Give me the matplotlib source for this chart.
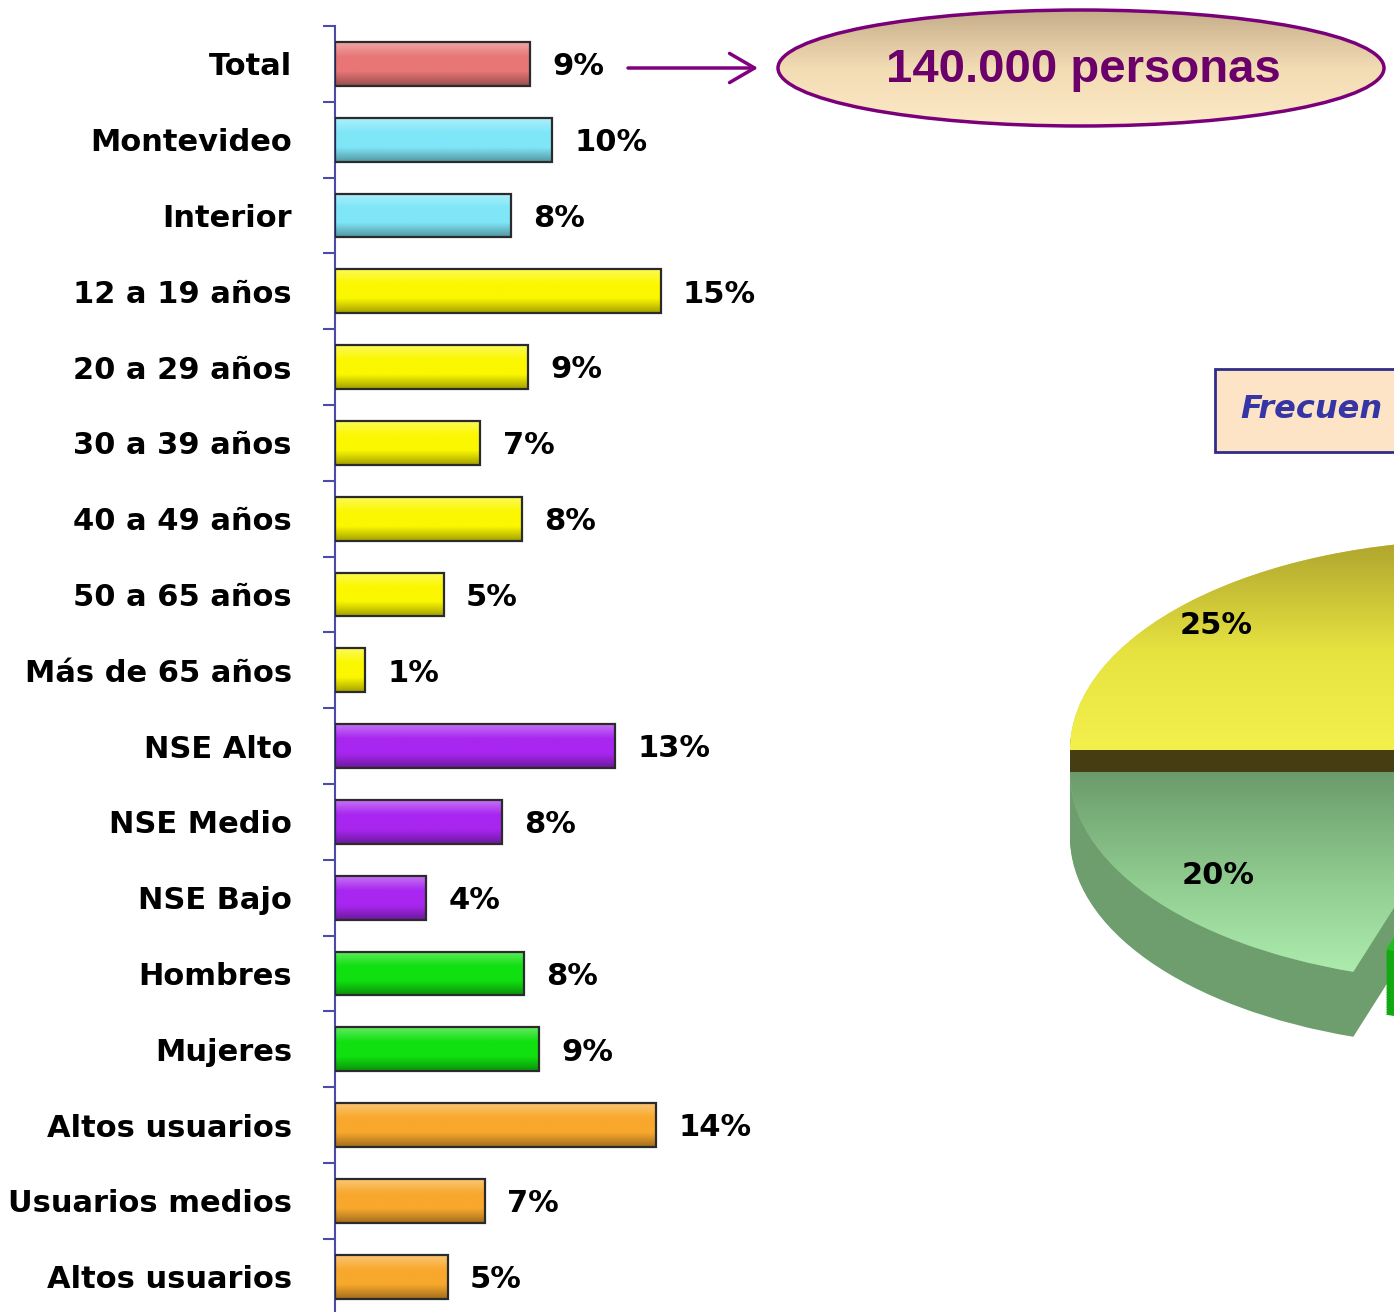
import numpy as np
import matplotlib
matplotlib.use('Agg')
import matplotlib.pyplot as plt
from matplotlib.patches import Ellipse, Rectangle
from matplotlib.colors import to_rgb, LinearSegmentedColormap

# ---- data ----
categories = ['Total', 'Montevideo', 'Interior', '12 a 19 años', '20 a 29 años',
              '30 a 39 años', '40 a 49 años', '50 a 65 años', 'Más de 65 años',
              'NSE Alto', 'NSE Medio', 'NSE Bajo', 'Hombres', 'Mujeres',
              'Altos usuarios', 'Usuarios medios', 'Altos usuarios']
values = [9.0, 10.0, 8.1, 15.0, 8.9, 6.7, 8.6, 5.0, 1.4,
          12.9, 7.7, 4.2, 8.7, 9.4, 14.8, 6.9, 5.2]
value_labels = ['9%', '10%', '8%', '15%', '9%', '7%', '8%', '5%', '1%',
                '13%', '8%', '4%', '8%', '9%', '14%', '7%', '5%']
groups = ['total', 'region', 'region', 'edad', 'edad', 'edad', 'edad', 'edad', 'edad',
          'nse', 'nse', 'nse', 'sexo', 'sexo', 'uso', 'uso', 'uso']

total_people = '140.000 personas'
box_title = 'Frecuen'   # the reference shows only this part of the title

pie_values = [25, 20, 55]
pie_labels = ['25%', '20%', '']

# ---- style ----
group_colors = {'total': '#e87676', 'region': '#7fe6f8', 'edad': '#fbf700',
                'nse': '#a826f0', 'sexo': '#10e010', 'uso': '#f8a82c'}
axis_color = '#4b4ba8'

W, H = 1394, 1312
fig = plt.figure(figsize=(W / 100, H / 100), dpi=100)


def blend(c, other, t):
    c = np.array(to_rgb(c))
    o = np.array(to_rgb(other))
    return tuple(c * (1 - t) + o * t)


def grad_fill(ax, patch, extent, stops, z):
    cmap = LinearSegmentedColormap.from_list('g', stops)
    arr = np.linspace(0, 1, 256).reshape(-1, 1)
    im = ax.imshow(arr, cmap=cmap, extent=extent, origin='lower',
                   aspect='auto', zorder=z, interpolation='bilinear')
    im.set_clip_path(patch)
    return im


# ---- bar chart ----
row_px = 75.8
ax = fig.add_axes([335 / W, 1 - (26 + 17 * row_px) / H, 434 / W, 17 * row_px / H])
y = np.arange(len(categories))
colors = [group_colors[g] for g in groups]
bar_h = 0.58
bars = ax.barh(y, values, height=bar_h, color=colors, linewidth=0, zorder=2)
for b, c in zip(bars, colors):
    x0, y0 = b.get_x(), b.get_y()
    grad_fill(ax, b, (x0, x0 + b.get_width(), y0 + bar_h, y0),
              [blend(c, 'black', 0.35), c, c, blend(c, 'white', 0.35)], 2.5)
ax.barh(y, values, height=bar_h, facecolor='none', edgecolor='#2b2b2b',
        linewidth=1.6, zorder=3)

for i, lab in enumerate(value_labels):
    ax.annotate(lab, xy=(values[i], y[i]), xytext=(16, -2), textcoords='offset points',
                ha='left', va='center', fontsize=22, fontweight='bold', color='black')

ax.set_xlim(0, 20)
ax.set_ylim(len(categories) - 0.5, -0.5)
ax.set_yticks(np.arange(-0.5, len(categories)), labels=[''] * (len(categories) + 1))
ax.set_yticks(y, labels=categories, minor=True)
ax.tick_params(axis='y', which='major', length=9, width=1.5, color=axis_color, direction='out')
ax.tick_params(axis='y', which='minor', length=0, pad=31, labelsize=22)
for t in ax.get_yticklabels(minor=True):
    t.set_fontweight('bold')
ax.set_xticks([])
for s in ['top', 'right', 'bottom']:
    ax.spines[s].set_visible(False)
ax.spines['left'].set_color(axis_color)
ax.spines['left'].set_linewidth(1.5)
ax.patch.set_alpha(0)

# ---- overlay: callout ellipse, arrow, title box ----
ov = fig.add_axes([0, 0, 1, 1])
ov.set_xlim(0, W)
ov.set_ylim(H, 0)
ov.axis('off')
ov.patch.set_alpha(0)

ell = Ellipse((1081, 68), 606, 116, facecolor='none', edgecolor='#7a007a', lw=2.5, zorder=4)
ov.add_patch(ell)
grad_fill(ov, ell, (778, 1384, 126, 10), ['#fce9c6', '#f2dcb4', '#c6ad8a'], 3)
ov.text(1083, 70, total_people, ha='center', va='center', fontsize=34, fontweight='bold',
        color='#6b006b', family=['Liberation Sans', 'DejaVu Sans'], zorder=5)
ov.annotate('', xy=(758, 68), xytext=(628, 68),
            arrowprops=dict(arrowstyle='->,head_length=0.6,head_width=0.35',
                            color='#800080', lw=2.5, mutation_scale=30,
                            shrinkA=0, shrinkB=0))

ov.add_patch(Rectangle((1215, 369), 200, 83, facecolor='#fde4c6', edgecolor='#2e2e88',
                       lw=2, zorder=3))
ov.text(1240, 410, box_title, ha='left', va='center', fontsize=23, fontweight='bold',
        style='italic', color='#3535a5', zorder=4)

# ---- 3D pie (partially visible) ----
CX, CY, RX, RY = 1480, 750, 410, 210
top_px, bot_px = 520, 1060
pax = fig.add_axes([1050 / W, 1 - bot_px / H, (W - 1050) / W, (bot_px - top_px) / H])
depth = 65 / RY
offsets = [(0, 0), (0, -0.105), (0.08, 0)]
label_dx = [-0.05, 0.04, 0]
side_colors = ['#463e12', '#6e9e6e', '#12a812']
top_colors = ['#e0dc48', '#88c488', '#20c020']
n_layers = 40
z = 1
for d in np.linspace(depth, 0, n_layers):
    face = side_colors if d > 0 else top_colors
    wedges, _ = pax.pie(pie_values, colors=face, startangle=90, counterclock=True,
                        wedgeprops=dict(linewidth=0))
    for w, (ox, oy) in zip(wedges, offsets):
        w.set_center((ox, oy - d))
        w.set_zorder(z)
    z += 1

grad_fill(pax, wedges[0], (-1.1, 0.2, -0.1, 1.05), ['#f6f24e', '#e6e240', '#a89e2c'], z)
grad_fill(pax, wedges[1], (-1.1, 0.2, -1.15, -0.1), ['#b4f2b4', '#90cc90', '#6a9a6a'], z)

for w, lab, dx in zip(wedges, pie_labels, label_dx):
    ang = np.deg2rad((w.theta1 + w.theta2) / 2)
    cx, cy = w.center
    pax.text(cx + 0.84 * np.cos(ang) + dx, cy + 0.84 * np.sin(ang), lab, ha='center',
             va='center', fontsize=22, fontweight='bold', color='black', zorder=z + 2,
             clip_on=True)

pax.set_aspect('auto')
pax.set_xlim((1050 - CX) / RX, (W - CX) / RX)
pax.set_ylim((CY - bot_px) / RY, (CY - top_px) / RY)
pax.axis('off')

fig.savefig('out.png', dpi=100)
